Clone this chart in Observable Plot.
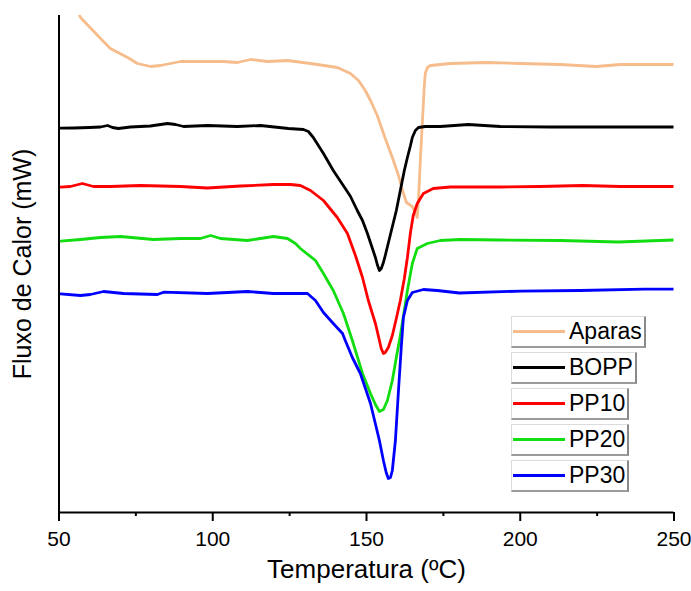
<!DOCTYPE html>
<html>
<head>
<meta charset="utf-8">
<script src="https://cdn.jsdelivr.net/npm/d3@7"></script>
<script src="https://cdn.jsdelivr.net/npm/@observablehq/plot@0.6"></script>
<style>
  html, body { margin: 0; padding: 0; background: #fff; }
  #wrap { position: relative; width: 691px; height: 591px; font-family: "Liberation Sans", Arial, sans-serif; }
  #legend { position: absolute; left: 511px; top: 316px; }
  .item { display: flex; align-items: center; height: 29px; margin-bottom: 4px; width: max-content;
          border-left: 1px solid #dcdcdc; border-top: 1px solid #dcdcdc;
          border-right: 2px solid #8a8a8a; border-bottom: 2px solid #9a9a9a; background: #fff; box-sizing: content-box; }
  .sw { width: 52px; height: 3px; margin-left: 1px; margin-right: 4px; }
  .lb { font-size: 23px; color: #000; padding-right: 2px; line-height: 29px; }
</style>
</head>
<body>
<div id="wrap"></div>
<script>
// ---- Data (temperature in °C, heat flow in arbitrary units) ----
const seriesNames = ["Aparas", "BOPP", "PP10", "PP20", "PP30"];
const seriesColors = ["#f6bc8b", "#000000", "#ff0000", "#11dd11", "#0000ff"];
const xTicks = [50, 100, 150, 200, 250];
const xMinorTicks = [75, 125, 175, 225];
const xLabel = "Temperatura (ºC)";
const yLabel = "Fluxo de Calor (mW)";

const aparasT = [56.7, 57.0, 63.5, 66.7, 72.3, 75.5, 79.8, 83.0, 89.5, 103.5, 108.0, 112.3, 117.8, 124.3, 131.8, 140.5, 144.8, 147.4, 149.6, 151.3, 153.5, 156.1, 158.4, 160.4, 161.7, 163.0, 164.9, 165.9, 166.5, 166.9, 167.5, 168.2, 168.8, 169.1, 169.8, 170.8, 177.3, 188.7, 200.0, 213.0, 224.7, 232.5, 250.0];
const aparasV = [497, 495, 474, 464, 455, 449, 446, 447, 451, 451, 450, 453, 451, 452, 449, 445, 439, 432, 422, 412, 397, 374, 355, 337, 322, 310, 306, 300, 295, 312, 352, 392, 427, 439, 445, 447, 449, 450, 449, 448, 446, 448, 448];

const boppT = [50.5, 54.9, 59.8, 63.5, 65.8, 67.4, 69.3, 73.2, 76.5, 79.7, 85.3, 87.9, 90.5, 98.3, 108.0, 115.5, 124.6, 129.5, 131.1, 132.7, 136.0, 139.2, 143.1, 144.8, 147.0, 148.7, 150.3, 151.6, 152.9, 153.5, 154.2, 154.8, 155.5, 156.1, 157.7, 159.7, 161.0, 162.3, 163.3, 164.3, 164.9, 165.9, 166.9, 169.1, 174.0, 183.1, 193.5, 209.8, 226.0, 250.0];
const boppV = [384.3, 384.5, 385, 385.5, 387, 385, 384, 385.5, 386, 386.5, 389, 388, 386, 387, 386, 387, 384, 383, 381, 375, 359, 342, 324, 316, 302, 292, 279, 267, 255, 248, 242, 244, 250, 257, 277, 302, 322, 342, 355, 367, 375, 382, 385, 386, 386, 388, 386, 385.5, 385.5, 385.5];

const pp10T = [50.5, 53.7, 57.6, 61.2, 66.7, 76.5, 89.5, 98.3, 109.0, 119.7, 125.3, 128.5, 131.8, 136.0, 140.5, 143.8, 146.4, 148.7, 150.6, 152.9, 153.9, 154.8, 155.5, 156.1, 157.1, 158.4, 159.7, 161.0, 162.3, 163.3, 164.3, 165.2, 166.5, 168.5, 171.7, 177.3, 193.5, 206.5, 220.2, 232.5, 250.0];
const pp10V = [325.3, 326, 329, 326, 326, 327, 326, 324.5, 326.5, 328, 328, 327, 322, 312, 295, 279, 257, 235, 212, 189, 176, 164, 159, 160, 165, 177, 194, 212, 234, 255, 280, 297, 309, 319, 324, 325.5, 325.5, 326, 327, 326, 326];

const pp20T = [50.5, 57.0, 63.5, 70.0, 80.7, 89.5, 96.0, 99.3, 102.5, 111.3, 119.7, 124.3, 126.9, 128.5, 133.4, 136.0, 139.2, 142.5, 145.4, 148.7, 151.3, 152.9, 154.2, 155.5, 156.8, 158.4, 159.7, 161.0, 162.3, 163.3, 164.9, 166.5, 169.8, 174.0, 180.5, 193.5, 213.0, 231.9, 250.0];
const pp20V = [271.3, 273, 275, 276, 273, 274, 274, 277, 274, 272, 276, 274, 269, 264, 252, 239, 222, 199, 172, 139, 119, 108, 101, 103, 112, 132, 155, 177, 202, 222, 249, 264, 269, 272, 273, 272.5, 272, 270.5, 272.5];

const pp30T = [50.5, 57.0, 60.2, 64.5, 71.0, 82.0, 84.0, 98.3, 111.3, 119.7, 124.6, 130.8, 133.4, 136.0, 139.2, 142.2, 143.1, 145.4, 148.0, 151.3, 154.2, 155.5, 156.4, 157.1, 157.8, 158.4, 159.4, 160.4, 161.3, 162.0, 163.3, 164.9, 168.5, 173.0, 180.2, 200.3, 219.5, 240.4, 250.0];
const pp30V = [218.7, 217, 218, 221, 219, 218, 220.3, 219, 221, 219, 219, 219, 212, 200, 189, 179, 172, 155, 139, 109, 72, 52, 40, 34, 35, 42, 72, 122, 165, 195, 212, 220, 223, 222, 219.5, 221.4, 222, 223.3, 223.3];

// ---- Build table ----
const seriesT = [aparasT, boppT, pp10T, pp20T, pp30T];
const seriesV = [aparasV, boppV, pp10V, pp20V, pp30V];
const rows = [];
seriesNames.forEach((name, i) => {
  seriesT[i].forEach((t, j) => rows.push({series: name, T: t, V: seriesV[i][j]}));
});

const chart = Plot.plot({
  width: 691,
  height: 591,
  marginLeft: 58.5,
  marginRight: 17.5,
  marginTop: 15,
  marginBottom: 79,
  style: {fontFamily: '"Liberation Sans", Arial, sans-serif', background: "white", color: "black"},
  x: {domain: [50, 250]},
  y: {domain: [0, 497], axis: null},
  color: {domain: seriesNames, range: seriesColors},
  marks: [
    Plot.axisX({ticks: xTicks, tickSize: 9, tickPadding: 10, fontSize: 21, strokeWidth: 2, label: null}),
    Plot.axisX({ticks: xMinorTicks, tickSize: 4, tickFormat: () => "", strokeWidth: 2, label: null}),
    Plot.line(rows, {x: "T", y: "V", z: "series", stroke: "series", strokeWidth: 2.8, strokeLinejoin: "round", clip: true}),
    Plot.ruleY([0], {strokeWidth: 2}),
    Plot.ruleX([50], {strokeWidth: 2}),
    Plot.text([xLabel], {frameAnchor: "bottom", dy: 65, fontSize: 26, fill: "black"}),
    Plot.text([yLabel], {frameAnchor: "left", dx: -36, rotate: -90, textAnchor: "middle", lineAnchor: "middle", fontSize: 25, fill: "black"})
  ]
});

const wrap = document.getElementById("wrap");
wrap.appendChild(chart);

// ---- Legend (inside the plot, as in the reference) ----
const legend = d3.select(wrap).append("div").attr("id", "legend");
seriesNames.forEach((name, i) => {
  const item = legend.append("div").attr("class", "item");
  item.append("div").attr("class", "sw").style("background", seriesColors[i]);
  item.append("span").attr("class", "lb").text(name);
});
</script>
</body>
</html>
